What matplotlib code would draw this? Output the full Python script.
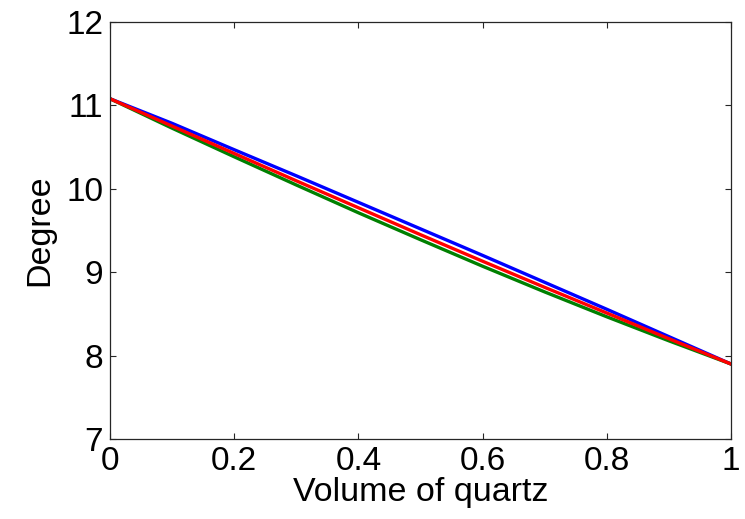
import numpy as np
import matplotlib
matplotlib.use('Agg')
import matplotlib.pyplot as plt

# volume fraction of quartz
vol_quartz = [0.0, 0.1, 0.2, 0.3, 0.4, 0.5, 0.6, 0.7, 0.8, 0.9, 1.0]

# degree curves
deg_blue = [11.08, 10.785, 10.469, 10.156, 9.838, 9.52, 9.202, 8.879, 8.556, 8.228, 7.90]
deg_red = [11.08, 10.752, 10.424, 10.096, 9.773, 9.45, 9.132, 8.819, 8.511, 8.203, 7.90]
deg_green = [11.08, 10.727, 10.384, 10.046, 9.713, 9.39, 9.072, 8.764, 8.466, 8.178, 7.90]

x_ticks = [0, 0.2, 0.4, 0.6, 0.8, 1]
x_ticklabels = ['0', '0.2', '0.4', '0.6', '0.8', '1']
y_ticks = [7, 8, 9, 10, 11, 12]

plt.rcParams['font.family'] = ['Liberation Sans', 'DejaVu Sans']

fig = plt.figure(figsize=(7.45, 5.19), dpi=100)
ax = fig.add_axes([0.1477, 0.154, 0.8335, 0.8036])

ax.plot(vol_quartz, deg_blue, color=(0, 0, 1), lw=2.4)
ax.plot(vol_quartz, deg_green, color=(0, 0.5, 0), lw=2.4)
ax.plot(vol_quartz, deg_red, color=(1, 0, 0), lw=2.4)

ax.set_xlim(0, 1)
ax.set_ylim(7, 12)
ax.set_xticks(x_ticks)
ax.set_xticklabels(x_ticklabels)
ax.set_yticks(y_ticks)
ax.tick_params(direction='in', length=4, width=0.8, labelsize=24,
               top=True, right=True, pad=5, colors='#262626', labelcolor='black')
for sp in ax.spines.values():
    sp.set_linewidth(0.9)
    sp.set_color('#262626')

ax.set_xlabel('Volume of quartz', fontsize=24.5, labelpad=0)
ax.set_ylabel('Degree', fontsize=24.5, labelpad=8)

fig.savefig('out.png', dpi=100)
